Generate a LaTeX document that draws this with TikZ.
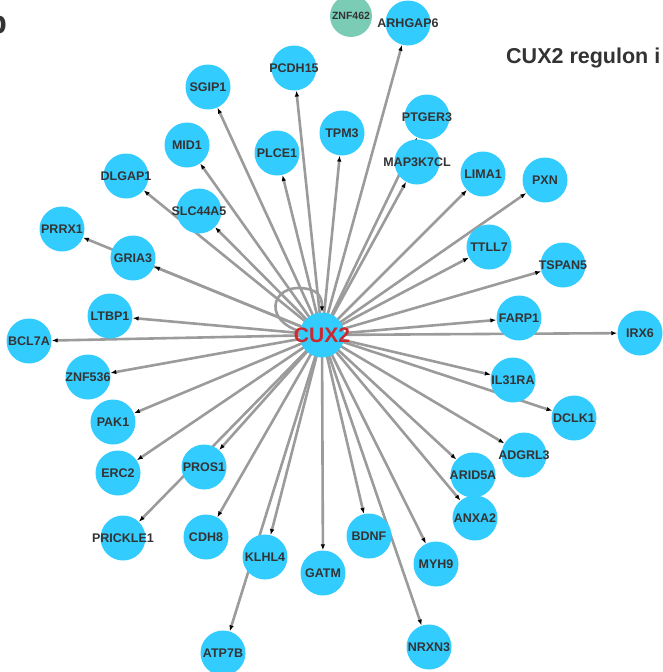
\documentclass[tikz,border=0pt]{standalone}
\usepackage{fontspec}
\setmainfont{Liberation Sans}
\usetikzlibrary{arrows.meta,backgrounds}
\definecolor{nodeblue}{RGB}{51,204,255}
\definecolor{nodegreen}{RGB}{122,204,180}
\definecolor{edgegray}{RGB}{155,155,155}
\definecolor{txtgray}{RGB}{51,51,51}
\definecolor{cuxred}{RGB}{204,40,46}
\begin{document}
\begin{tikzpicture}[x=1pt,y=-1pt,
  gene/.style={circle,fill=nodeblue,draw=none,minimum size=45pt,inner sep=0pt,
    label={[text=txtgray,inner sep=0pt,font=\bfseries\fontsize{12.5}{13}\selectfont]center:#1}},
  tf/.style={circle,fill=nodeblue,draw=none,minimum size=45pt,inner sep=0pt,
    label={[text=cuxred,inner sep=0pt,font=\bfseries\fontsize{21}{22}\selectfont]center:#1}},
  other/.style={circle,fill=nodegreen,draw=none,minimum size=42pt,inner sep=0pt,
    label={[text=txtgray,inner sep=0pt,font=\bfseries\fontsize{10.5}{11}\selectfont]center:#1}},
  edge/.style={draw=edgegray,line width=2.6pt,-{Latex[length=6pt,width=4.5pt,color=black]}},
  heading/.style={text=txtgray,font=\bfseries\fontsize{21.5}{22}\selectfont,inner sep=0pt}]
\useasboundingbox (0,0) rectangle (662,672);
% nodes
\node[tf=CUX2] (cux) at (322,335) {};
\node[other=ZNF462] (znf462) at (351,16) {};
\node[gene=ARHGAP6] (arhgap6) at (408,23) {};
\node[gene=PCDH15] (pcdh15) at (294,68) {};
\node[gene=SGIP1] (sgip1) at (208,87) {};
\node[gene=TPM3] (tpm3) at (342,133) {};
\node[gene=PTGER3] (ptger3) at (427,117) {};
\node[gene=MID1] (mid1) at (187,145) {};
\node[gene=PLCE1] (plce1) at (277,153) {};
\node[gene=MAP3K7CL] (map3k7cl) at (417,162) {};
\node[gene=LIMA1] (lima1) at (483,174) {};
\node[gene=PXN] (pxn) at (545,180) {};
\node[gene=DLGAP1] (dlgap1) at (126,176) {};
\node[gene=SLC44A5] (slc44a5) at (199,211) {};
\node[gene=PRRX1] (prrx1) at (62,229) {};
\node[gene=GRIA3] (gria3) at (133,258) {};
\node[gene=TTLL7] (ttll7) at (489,247) {};
\node[gene=TSPAN5] (tspan5) at (563,265) {};
\node[gene=LTBP1] (ltbp1) at (110,316) {};
\node[gene=FARP1] (farp1) at (519,318) {};
\node[gene=BCL7A] (bcl7a) at (29,341) {};
\node[gene=IRX6] (irx6) at (640,333) {};
\node[gene=ZNF536] (znf536) at (88,377) {};
\node[gene=IL31RA] (il31ra) at (513,380) {};
\node[gene=PAK1] (pak1) at (113,422) {};
\node[gene=DCLK1] (dclk1) at (574,418) {};
\node[gene=ADGRL3] (adgrl3) at (524,455) {};
\node[gene=ERC2] (erc2) at (118,473) {};
\node[gene=PROS1] (pros1) at (204,467) {};
\node[gene=ARID5A] (arid5a) at (473,475) {};
\node[gene=ANXA2] (anxa2) at (475,518) {};
\node[gene=PRICKLE1] (prickle1) at (123,538) {};
\node[gene=CDH8] (cdh8) at (206,537) {};
\node[gene=BDNF] (bdnf) at (369,536) {};
\node[gene=KLHL4] (klhl4) at (265,557) {};
\node[gene=MYH9] (myh9) at (436,564) {};
\node[gene=GATM] (gatm) at (323,573) {};
\node[gene=ATP7B] (atp7b) at (223,653) {};
\node[gene=NRXN3] (nrxn3) at (429,647) {};
% labels
\node[heading,anchor=west] (title) at (506,58) {CUX2 regulon i};
\node[text=txtgray,font=\bfseries\fontsize{32}{32}\selectfont,inner sep=0pt,anchor=base east] (panel) at (7,33) {b};
% edges
\begin{scope}[on background layer]
\foreach \t in {arhgap6,pcdh15,sgip1,tpm3,ptger3,mid1,plce1,map3k7cl,lima1,pxn,
  dlgap1,slc44a5,prrx1,gria3,ttll7,tspan5,ltbp1,farp1,bcl7a,irx6,znf536,il31ra,
  pak1,dclk1,adgrl3,erc2,pros1,arid5a,anxa2,prickle1,cdh8,bdnf,klhl4,myh9,gatm,
  atp7b,nrxn3}
  \draw[edge] (cux.center) -- (\t);
\draw[edge] (cux.center) .. controls (262,332) and (266,287) .. (300,288)
  .. controls (318,289) and (322,296) .. (cux.north);
\end{scope}
\end{tikzpicture}
\end{document}
